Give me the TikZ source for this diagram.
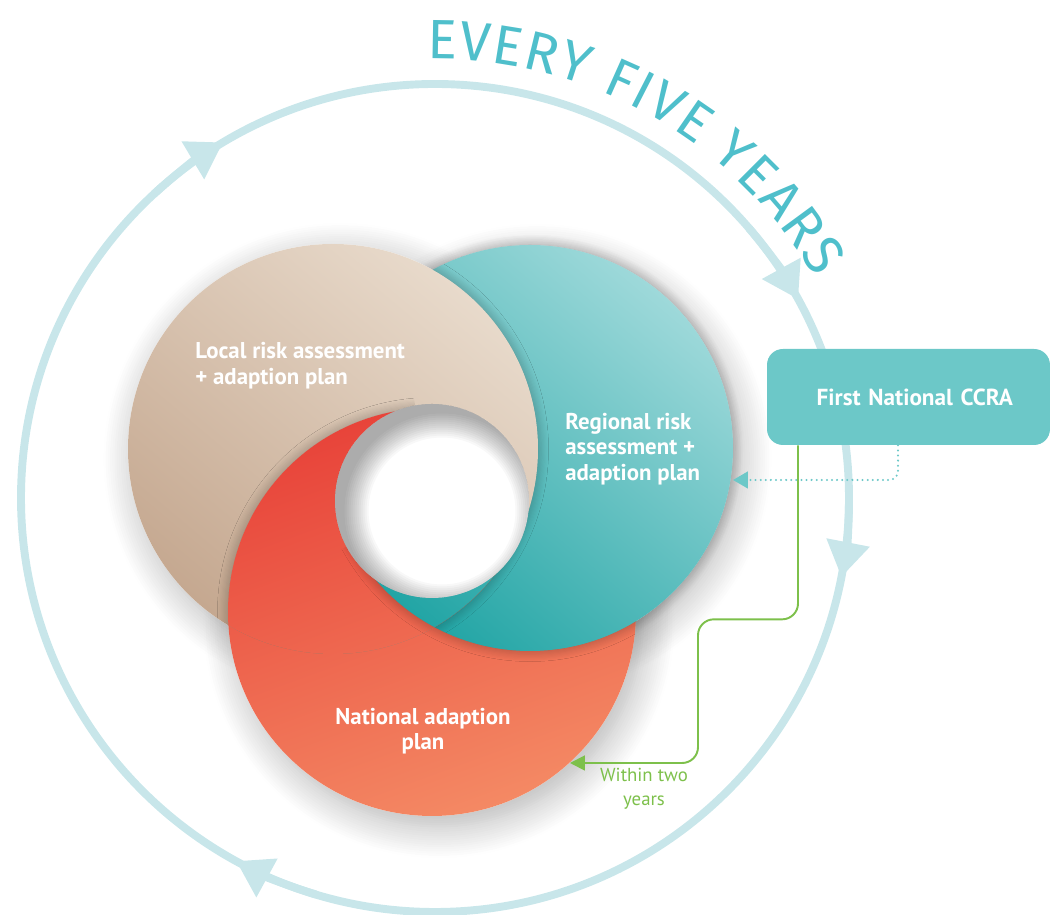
\documentclass[tikz,border=0pt]{standalone}
\usepackage{fontspec}
\setmainfont{PT Sans}
\newfontfamily\labelfont{PT Sans}
\newfontfamily\titlefont{Fira Sans}
\usetikzlibrary{arrows.meta,decorations.text,shadows.blur,calc}

\definecolor{ringcol}{HTML}{C8E6EA}
\definecolor{titlecol}{HTML}{4FBFCB}
\definecolor{boxcol}{HTML}{6CC8C8}
\definecolor{greencol}{HTML}{7DC04B}
\definecolor{beigeL}{HTML}{E8DACB}
\definecolor{beigeD}{HTML}{C5A890}
\definecolor{tealL}{HTML}{9ED9DA}
\definecolor{tealM}{HTML}{6AC7C6}
\definecolor{tealD}{HTML}{22A5A5}
\definecolor{redT}{HTML}{E8443A}
\definecolor{redM}{HTML}{EF6A4F}
\definecolor{redB}{HTML}{F48964}

\begin{document}
\begin{tikzpicture}[x=0.02cm,y=0.02cm,
  ringline/.style={draw=ringcol, line width=4.5pt},
  ringtip/.style={ringcol, line width=4.5pt, -{Triangle[length=20pt,width=24pt]}},
  halo/.style={fill=white, blur shadow={shadow xshift=4pt, shadow yshift=-6pt, shadow blur radius=18pt, shadow opacity=30, shadow blur steps=15}},
  rim/.style={blur shadow={shadow xshift=0pt, shadow yshift=0pt, shadow blur radius=6pt, shadow opacity=32, shadow blur steps=10}},
  beigefill/.style={top color=beigeL, bottom color=beigeD, shading angle=-40},
  tealfill/.style={top color=tealL, middle color=tealM, bottom color=tealD, shading angle=-40},
  redfill/.style={top color=redT, middle color=redM, bottom color=redB, shading angle=20},
  swirltext/.style={text=white, font=\labelfont\bfseries\fontsize{13}{14.6}\selectfont, align=left, inner sep=0pt},
  ccrabox/.style={fill=boxcol, rounded corners=9pt, minimum width=5.66cm, minimum height=1.92cm,
    text=white, font=\labelfont\bfseries\fontsize{13.2}{15}\selectfont, text width=4.18cm, align=right, inner sep=0pt},
  dotline/.style={draw=boxcol, line width=1.3pt, line cap=round, dash pattern=on 0pt off 2.9pt,
    rounded corners=5pt, -{Triangle[length=8.5pt,width=9.5pt]}},
  greenline/.style={draw=greencol, line width=1.1pt, rounded corners=9pt, -{Triangle[length=8.5pt,width=8.5pt]}},
  greentext/.style={text=greencol, font=\labelfont\fontsize{10.7}{13.6}\selectfont, align=center, inner sep=0pt},
]
\useasboundingbox (0,0) rectangle (1052,915);

% outer cycle with its four arrowheads
\coordinate (rc) at (435,417);
\draw[ringline] (rc) circle[radius=414];
\foreach \a in {120.8,28.7,-11,241.3}
  \draw[ringtip] (rc) ++(\a+12:414) arc[start angle=\a+12, end angle=\a, radius=414];

% curved title
\path[decorate, decoration={text along path, text align=fit to path, text color=titlecol,
  text={|\titlefont\fontsize{31.5}{31.5}\selectfont|EVERY FIVE YEARS}}]
  (rc) ++(91:439) arc[start angle=91, end angle=30, radius=439];

% swirl centres
\coordinate (O) at (432,414);
\coordinate (cb) at (333,466);
\coordinate (ct) at (530,467);
\coordinate (cr) at (432,303);

% soft halo under the swirl
\fill[halo] (cr) circle[radius=204];
\fill[halo] (ct) circle[radius=203];
\fill[halo] (cb) circle[radius=205];

% base stack: red, teal, beige
\shade[redfill] (cr) circle[radius=204];
\shade[tealfill, rim] (ct) circle[radius=203];
\begin{scope}
  \clip (ct) circle[radius=203];
  \path[rim] (cb) circle[radius=205];
\end{scope}
\shade[beigefill] (cb) circle[radius=205];

% red laps over beige on the left
\begin{scope}
  \clip (cb) circle[radius=205];
  \clip (O) -- ($(O)+(100:600)$) -- ($(O)+(185:600)$) -- ($(O)+(270:600)$) -- ($(O)+(332:600)$) -- cycle;
  \shade[redfill, rim] (cr) circle[radius=204];
\end{scope}

% teal laps over red below the hole
\begin{scope}
  \clip (cb) circle[radius=205];
  \clip (O) -- ($(O)+(208:600)$) -- ($(O)+(270:600)$) -- ($(O)+(332:600)$) -- cycle;
  \shade[tealfill, rim] (ct) circle[radius=203];
\end{scope}

% central hole with inner shadow
\fill[white] (O) circle[radius=97];
\begin{scope}
  \clip (O) circle[radius=97];
  \foreach \k in {0,...,12}
    \draw[black, opacity=0.028, line width=45pt] ($(O)+(10,-10)$) circle[radius={137-2*\k}];
\end{scope}

% swirl labels
\node[swirltext, anchor=west] (local) at (195,549) {Local risk assessment\\+ adaption plan};
\node[swirltext, anchor=west] (regional) at (565,466) {Regional risk\\assessment +\\adaption plan};
\node[swirltext, align=center] (national) at (423,184) {National adaption\\plan};

% first national assessment and its links
\node[ccrabox] (ccra) at (908.5,518) {First National CCRA};
\coordinate (dotx) at (898,0);
\coordinate (greenx) at (798,0);
\coordinate (regin) at (733,435);
\coordinate (natin) at (570,152);
\draw[dotline] (ccra.south -| dotx) |- (regin);
\draw[greenline] (ccra.south -| greenx) -- ++(0,-174) -- ++(-100,0) |- (natin);
\node[greentext] (within) at (644,126) {Within two\\years};
\end{tikzpicture}
\end{document}
